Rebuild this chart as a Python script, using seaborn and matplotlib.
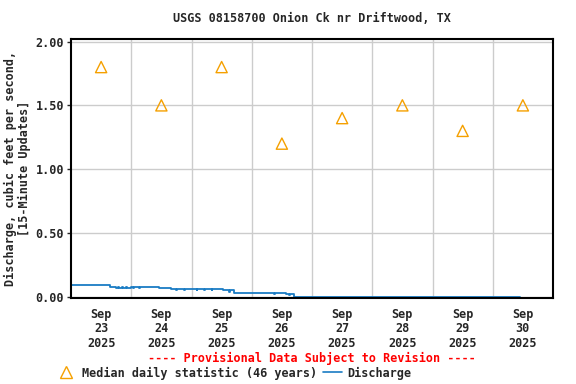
import numpy as np
import pandas as pd
import matplotlib
matplotlib.use("Agg")
import matplotlib.pyplot as plt
import matplotlib.dates as mdates
from matplotlib.lines import Line2D
import seaborn as sns

sns.set_style("white")
plt.rcParams['font.family'] = ['DejaVu Sans Mono']
plt.rcParams['font.weight'] = 'bold'

# 15-minute discharge, stored as step breakpoints (value holds until next time)
q_times = ["2025-09-23 00:00", "2025-09-23 15:30", "2025-09-23 18:00", "2025-09-23 18:45",
           "2025-09-23 19:00", "2025-09-23 20:30", "2025-09-23 20:45", "2025-09-23 22:00",
           "2025-09-23 22:15", "2025-09-24 00:00", "2025-09-24 00:45", "2025-09-24 01:15",
           "2025-09-24 03:15", "2025-09-24 03:30", "2025-09-24 11:00", "2025-09-24 16:00",
           "2025-09-24 18:00", "2025-09-24 18:15", "2025-09-24 21:00", "2025-09-24 21:15",
           "2025-09-25 02:00", "2025-09-25 02:15", "2025-09-25 05:00", "2025-09-25 05:15",
           "2025-09-25 08:00", "2025-09-25 08:15", "2025-09-25 12:30", "2025-09-25 15:00",
           "2025-09-25 15:15", "2025-09-25 17:00", "2025-09-26 09:00", "2025-09-26 09:15",
           "2025-09-26 13:45", "2025-09-26 15:00", "2025-09-26 15:15", "2025-09-26 17:00",
           "2025-09-30 10:45"]
q_values = [0.09, 0.08, 0.07, 0.08,
            0.07, 0.08, 0.07, 0.08,
            0.07, 0.08, 0.07, 0.08,
            0.07, 0.08, 0.07, 0.06,
            0.05, 0.06, 0.05, 0.06,
            0.05, 0.06, 0.05, 0.06,
            0.05, 0.06, 0.05, 0.04,
            0.05, 0.03, 0.02, 0.03,
            0.02, 0.01, 0.02, 0.00,
            0.00]

# median daily statistic (46 years), plotted at noon
med_days = ["2025-09-23", "2025-09-24", "2025-09-25", "2025-09-26",
            "2025-09-27", "2025-09-28", "2025-09-29", "2025-09-30"]
med_values = [1.80, 1.50, 1.80, 1.20, 1.40, 1.50, 1.30, 1.50]

y_ticks = [0.0, 0.5, 1.0, 1.5, 2.0]

q = pd.DataFrame({"time": pd.to_datetime(q_times), "flow": q_values})
med = pd.DataFrame({"time": pd.to_datetime(med_days) + pd.Timedelta(hours=12),
                    "flow": med_values})

blue = "#1a7cc4"
orange = "#f5a000"

fig = plt.figure(figsize=(5.76, 3.84), dpi=100)
ax = fig.add_axes([71/576, 1 - 298/384, 482/576, 259/384])

sns.lineplot(data=q, x="time", y="flow", ax=ax, color=blue, lw=1.3,
             drawstyle="steps-post")
sns.scatterplot(data=med, x="time", y="flow", ax=ax, marker="^", s=65,
                facecolor="none", edgecolor=orange, linewidth=1.0, zorder=3)

start = pd.Timestamp("2025-09-23")
end = pd.Timestamp("2025-10-01")
ax.set_xlim(start, end)
ax.set_ylim(-0.01, 2.02)

ax.set_xticks(med["time"])
ax.set_xticklabels([t.strftime("%b\n%d\n%Y") for t in med["time"]],
                   fontsize=8.5, fontweight="bold", linespacing=1.15)
ax.set_xticks(pd.date_range(start, end, freq="D")[1:-1], minor=True)
ax.tick_params(axis="x", which="both", length=0, pad=7)
ax.set_yticks(y_ticks)
ax.set_yticklabels([f"{v:.2f}" for v in y_ticks], fontsize=8.5, fontweight="bold")
ax.tick_params(axis="y", length=3, width=1, pad=2, direction="out", left=True)

ax.grid(True, which="minor", axis="x", color="#cccccc", lw=1)
ax.grid(True, which="major", axis="y", color="#cccccc", lw=1)
ax.set_axisbelow(True)
for s in ax.spines.values():
    s.set_color("black")
    s.set_linewidth(1.5)

ax.set_xlabel("")
ax.set_ylabel("Discharge, cubic feet per second,\n[15-Minute Updates]",
              fontsize=8.5, fontweight="bold", linespacing=1.1, labelpad=3)

fig.text(312/576, 1 - 19/384, "USGS 08158700 Onion Ck nr Driftwood, TX",
         ha="center", va="center", fontsize=8.5, fontweight="bold")
fig.text(312/576, 1 - 358/384, "---- Provisional Data Subject to Revision ----",
         ha="center", va="center", fontsize=8.5, fontweight="bold", color="red")

handles = [Line2D([], [], marker="^", ls="", mfc="none", mec=orange, ms=8, mew=1.0),
           Line2D([], [], color=blue, lw=1.2)]
fig.legend(handles, ["Median daily statistic (46 years)", "Discharge"],
           loc="center left", bbox_to_anchor=(57/576, 1 - 373/384), ncol=2,
           frameon=False, fontsize=8.5, handlelength=1.6, handletextpad=0.5,
           columnspacing=0.5, borderaxespad=0, borderpad=0,
           prop={"weight": "bold", "size": 8.5})

fig.savefig("out.png", dpi=100)
